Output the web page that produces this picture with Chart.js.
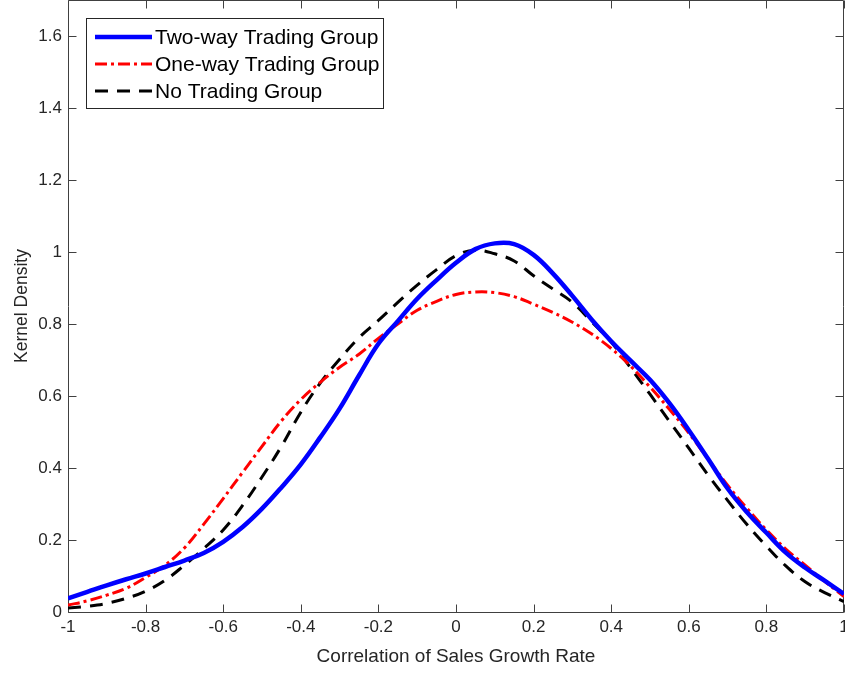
<!DOCTYPE html>
<html><head><meta charset="utf-8">
<script src="https://cdn.jsdelivr.net/npm/chart.js@4/dist/chart.umd.min.js"></script>
<style>html,body{margin:0;padding:0;background:#fff}#wrap{width:845px;height:673px;position:relative}</style>
</head><body><div id="wrap"><canvas id="c"></canvas></div>
<script>
const xValues = [-1,-0.95,-0.9,-0.85,-0.8,-0.75,-0.7,-0.65,-0.6,-0.55,-0.5,-0.45,-0.4,-0.35,-0.3,-0.25,-0.2,-0.15,-0.1,-0.05,0,0.05,0.1,0.15,0.2,0.25,0.3,0.35,0.4,0.45,0.5,0.55,0.6,0.65,0.7,0.75,0.8,0.85,0.9,0.95,1];
const twoWay  = [0.038,0.056,0.074,0.091,0.107,0.125,0.143,0.164,0.195,0.236,0.287,0.346,0.410,0.485,0.565,0.657,0.745,0.808,0.870,0.922,0.970,1.008,1.024,1.022,0.992,0.940,0.878,0.812,0.752,0.698,0.645,0.580,0.505,0.425,0.343,0.277,0.220,0.165,0.123,0.087,0.050];
const oneWay  = [0.019,0.031,0.047,0.066,0.096,0.130,0.178,0.244,0.315,0.388,0.460,0.531,0.590,0.638,0.680,0.716,0.760,0.800,0.838,0.863,0.882,0.889,0.887,0.876,0.855,0.832,0.805,0.772,0.732,0.683,0.625,0.563,0.497,0.424,0.352,0.288,0.228,0.175,0.130,0.085,0.043];
const noTrade = [0.011,0.016,0.024,0.038,0.058,0.088,0.130,0.176,0.228,0.296,0.375,0.460,0.555,0.636,0.702,0.762,0.810,0.860,0.908,0.951,0.990,1.005,0.995,0.975,0.934,0.897,0.860,0.806,0.750,0.678,0.605,0.530,0.455,0.380,0.310,0.243,0.183,0.128,0.084,0.054,0.029];
const seriesNames = ['Two-way Trading Group','One-way Trading Group','No Trading Group'];
const xTicks = [-1,-0.8,-0.6,-0.4,-0.2,0,0.2,0.4,0.6,0.8,1];
const xTickLabels = ['-1','-0.8','-0.6','-0.4','-0.2','0','0.2','0.4','0.6','0.8','1'];
const yTicks = [0,0.2,0.4,0.6,0.8,1,1.2,1.4,1.6];
const yTickLabels = ['0','0.2','0.4','0.6','0.8','1','1.2','1.4','1.6'];
const xTitle = 'Correlation of Sales Growth Rate';
const yTitle = 'Kernel Density';

const sans = "'Liberation Sans',Arial,Helvetica,sans-serif";
const axisColor = '#404040';
const textColor = '#262626';

const pts = arr => xValues.map((x,i)=>({x:x,y:arr[i]}));

const frame = {
  id:'frame',
  beforeDatasetsDraw(chart){
    const {ctx, chartArea:a, scales:{x,y}} = chart;
    ctx.save();
    ctx.strokeStyle = axisColor; ctx.lineWidth = 1;
    const L = Math.round(a.left)+0.5, R = Math.round(a.right)-0.5, T = Math.round(a.top)+0.5, B = Math.round(a.bottom)+0.5;
    ctx.beginPath();
    ctx.rect(L, T, R-L, B-T);
    const tl = 8;
    xTicks.forEach(v=>{
      const px = Math.round(x.getPixelForValue(v))+0.5;
      ctx.moveTo(px,B); ctx.lineTo(px,B-tl);
      ctx.moveTo(px,T); ctx.lineTo(px,T+tl);
    });
    yTicks.forEach(v=>{
      const py = Math.round(y.getPixelForValue(v))+0.5;
      ctx.moveTo(L,py); ctx.lineTo(L+tl,py);
      ctx.moveTo(R,py); ctx.lineTo(R-tl,py);
    });
    ctx.stroke();
    ctx.restore();
  }
};

const boxLegend = {
  id:'boxLegend',
  afterDatasetsDraw(chart){
    const ctx = chart.ctx;
    ctx.save();
    const bx = 86.5, by = 18.5, bw = 297, bh = 90;
    ctx.fillStyle = '#fff'; ctx.fillRect(bx,by,bw,bh);
    ctx.strokeStyle = '#262626'; ctx.lineWidth = 1; ctx.strokeRect(bx,by,bw,bh);
    const rows = [37, 64, 91];
    chart.data.datasets.forEach((ds,i)=>{
      ctx.beginPath();
      ctx.strokeStyle = ds.borderColor; ctx.lineWidth = ds.borderWidth;
      ctx.setLineDash(ds.borderDash || []);
      ctx.moveTo(95, rows[i]); ctx.lineTo(152, rows[i]);
      ctx.stroke();
      ctx.setLineDash([]);
      ctx.fillStyle = '#000';
      ctx.font = "21px " + sans;
      ctx.textBaseline = 'middle'; ctx.textAlign = 'left';
      ctx.fillText(ds.label, 155, rows[i]+1);
    });
    ctx.restore();
  }
};

new Chart(document.getElementById('c'), {
  type:'line',
  data:{
    datasets:[
      {label:seriesNames[0], data:pts(twoWay), borderColor:'#0000ff', borderWidth:4.5, pointRadius:0, tension:0.4, fill:false},
      {label:seriesNames[1], data:pts(oneWay), borderColor:'#ff0000', borderWidth:3, borderDash:[12,4,3,4], pointRadius:0, tension:0.4, fill:false},
      {label:seriesNames[2], data:pts(noTrade), borderColor:'#000000', borderWidth:3, borderDash:[13,9], pointRadius:0, tension:0.4, fill:false}
    ]
  },
  options:{
    responsive:true, maintainAspectRatio:false, animation:false,
    layout:{padding:{top:0,right:1,bottom:0,left:0}},
    plugins:{legend:{display:false}, tooltip:{enabled:false}},
    scales:{
      x:{type:'linear', min:-1, max:1,
        grid:{display:false, drawTicks:false}, border:{display:false},
        afterBuildTicks:s=>{s.ticks = xTicks.map(v=>({value:v}));},
        ticks:{padding:5, color:textColor, maxRotation:0, autoSkip:false, font:{family:sans,size:17},
          callback:(v)=>{const i=xTicks.indexOf(v); return i>=0?xTickLabels[i]:'';}},
        title:{display:true, text:xTitle, color:textColor, font:{family:sans,size:19}, padding:{top:0,bottom:5}},
        afterFit:s=>{s.height=61; s.paddingLeft=0; s.paddingRight=0;}
      },
      y:{type:'linear', min:0, max:1.7,
        grid:{display:false, drawTicks:false}, border:{display:false},
        afterBuildTicks:s=>{s.ticks = yTicks.map(v=>({value:v}));},
        ticks:{padding:6, color:textColor, autoSkip:false, font:{family:sans,size:17},
          callback:(v)=>{const i=yTicks.indexOf(v); return i>=0?yTickLabels[i]:'';}},
        title:{display:true, text:yTitle, color:textColor, font:{family:sans,size:17.5}, padding:{top:12,bottom:0}},
        afterFit:s=>{s.width=68; s.paddingTop=0; s.paddingBottom=0;}
      }
    }
  },
  plugins:[frame, boxLegend]
});
</script>
</body></html>
